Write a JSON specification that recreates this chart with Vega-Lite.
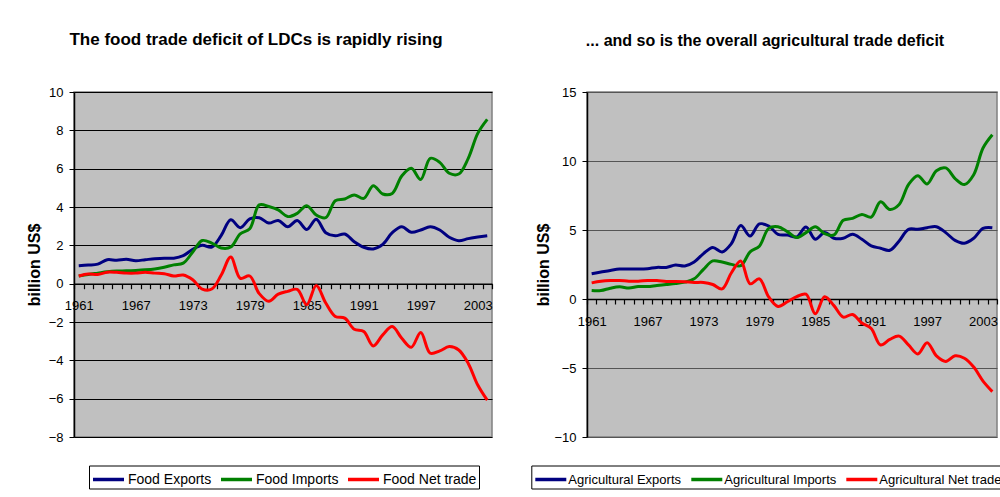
{
  "$schema": "https://vega.github.io/schema/vega-lite/v6.json",
  "background": "white",
  "padding": {"left": 25, "top": 29, "right": 0, "bottom": 0},
  "spacing": 36,
  "config": {
    "font": "Liberation Sans",
    "view": {"fill": "#C0C0C0", "stroke": "#808080", "strokeWidth": 1.5},
    "axis": {"labelColor": "black", "titleColor": "black", "domainColor": "black", "tickColor": "black", "labelFontSize": 13, "labelFont": "Liberation Sans"},
    "legend": {"labelColor": "black", "labelFont": "Liberation Sans"}
  },
  "datasets": {
    "food": [
      {"year":1961,"series":"Food Exports","value":0.93},{"year":1962,"series":"Food Exports","value":0.97},{"year":1963,"series":"Food Exports","value":1.02},{"year":1964,"series":"Food Exports","value":1.25},{"year":1965,"series":"Food Exports","value":1.22},{"year":1966,"series":"Food Exports","value":1.27},{"year":1967,"series":"Food Exports","value":1.2},{"year":1968,"series":"Food Exports","value":1.25},{"year":1969,"series":"Food Exports","value":1.3},{"year":1970,"series":"Food Exports","value":1.33},{"year":1971,"series":"Food Exports","value":1.33},{"year":1972,"series":"Food Exports","value":1.46},{"year":1973,"series":"Food Exports","value":1.79},{"year":1974,"series":"Food Exports","value":2.0},{"year":1975,"series":"Food Exports","value":1.91},{"year":1976,"series":"Food Exports","value":2.52},{"year":1977,"series":"Food Exports","value":3.33},{"year":1978,"series":"Food Exports","value":2.92},{"year":1979,"series":"Food Exports","value":3.38},{"year":1980,"series":"Food Exports","value":3.44},{"year":1981,"series":"Food Exports","value":3.16},{"year":1982,"series":"Food Exports","value":3.3},{"year":1983,"series":"Food Exports","value":2.97},{"year":1984,"series":"Food Exports","value":3.29},{"year":1985,"series":"Food Exports","value":2.83},{"year":1986,"series":"Food Exports","value":3.36},{"year":1987,"series":"Food Exports","value":2.66},{"year":1988,"series":"Food Exports","value":2.5},{"year":1989,"series":"Food Exports","value":2.59},{"year":1990,"series":"Food Exports","value":2.19},{"year":1991,"series":"Food Exports","value":1.9},{"year":1992,"series":"Food Exports","value":1.81},{"year":1993,"series":"Food Exports","value":2.05},{"year":1994,"series":"Food Exports","value":2.66},{"year":1995,"series":"Food Exports","value":2.97},{"year":1996,"series":"Food Exports","value":2.68},{"year":1997,"series":"Food Exports","value":2.8},{"year":1998,"series":"Food Exports","value":2.97},{"year":1999,"series":"Food Exports","value":2.8},{"year":2000,"series":"Food Exports","value":2.42},{"year":2001,"series":"Food Exports","value":2.24},{"year":2002,"series":"Food Exports","value":2.35},{"year":2003,"series":"Food Exports","value":2.43},{"year":2004,"series":"Food Exports","value":2.5},
      {"year":1961,"series":"Food Imports","value":0.4},{"year":1962,"series":"Food Imports","value":0.48},{"year":1963,"series":"Food Imports","value":0.55},{"year":1964,"series":"Food Imports","value":0.62},{"year":1965,"series":"Food Imports","value":0.66},{"year":1966,"series":"Food Imports","value":0.67},{"year":1967,"series":"Food Imports","value":0.69},{"year":1968,"series":"Food Imports","value":0.72},{"year":1969,"series":"Food Imports","value":0.77},{"year":1970,"series":"Food Imports","value":0.86},{"year":1971,"series":"Food Imports","value":0.98},{"year":1972,"series":"Food Imports","value":1.07},{"year":1973,"series":"Food Imports","value":1.65},{"year":1974,"series":"Food Imports","value":2.25},{"year":1975,"series":"Food Imports","value":2.12},{"year":1976,"series":"Food Imports","value":1.86},{"year":1977,"series":"Food Imports","value":1.91},{"year":1978,"series":"Food Imports","value":2.6},{"year":1979,"series":"Food Imports","value":2.86},{"year":1980,"series":"Food Imports","value":4.11},{"year":1981,"series":"Food Imports","value":4.03},{"year":1982,"series":"Food Imports","value":3.85},{"year":1983,"series":"Food Imports","value":3.5},{"year":1984,"series":"Food Imports","value":3.67},{"year":1985,"series":"Food Imports","value":4.07},{"year":1986,"series":"Food Imports","value":3.58},{"year":1987,"series":"Food Imports","value":3.44},{"year":1988,"series":"Food Imports","value":4.33},{"year":1989,"series":"Food Imports","value":4.42},{"year":1990,"series":"Food Imports","value":4.63},{"year":1991,"series":"Food Imports","value":4.45},{"year":1992,"series":"Food Imports","value":5.11},{"year":1993,"series":"Food Imports","value":4.68},{"year":1994,"series":"Food Imports","value":4.71},{"year":1995,"series":"Food Imports","value":5.62},{"year":1996,"series":"Food Imports","value":6.02},{"year":1997,"series":"Food Imports","value":5.44},{"year":1998,"series":"Food Imports","value":6.54},{"year":1999,"series":"Food Imports","value":6.33},{"year":2000,"series":"Food Imports","value":5.76},{"year":2001,"series":"Food Imports","value":5.72},{"year":2002,"series":"Food Imports","value":6.54},{"year":2003,"series":"Food Imports","value":7.84},{"year":2004,"series":"Food Imports","value":8.57},
      {"year":1961,"series":"Food Net trade","value":0.4},{"year":1962,"series":"Food Net trade","value":0.5},{"year":1963,"series":"Food Net trade","value":0.48},{"year":1964,"series":"Food Net trade","value":0.6},{"year":1965,"series":"Food Net trade","value":0.59},{"year":1966,"series":"Food Net trade","value":0.55},{"year":1967,"series":"Food Net trade","value":0.55},{"year":1968,"series":"Food Net trade","value":0.6},{"year":1969,"series":"Food Net trade","value":0.55},{"year":1970,"series":"Food Net trade","value":0.52},{"year":1971,"series":"Food Net trade","value":0.4},{"year":1972,"series":"Food Net trade","value":0.45},{"year":1973,"series":"Food Net trade","value":0.2},{"year":1974,"series":"Food Net trade","value":-0.28},{"year":1975,"series":"Food Net trade","value":-0.28},{"year":1976,"series":"Food Net trade","value":0.45},{"year":1977,"series":"Food Net trade","value":1.39},{"year":1978,"series":"Food Net trade","value":0.28},{"year":1979,"series":"Food Net trade","value":0.4},{"year":1980,"series":"Food Net trade","value":-0.52},{"year":1981,"series":"Food Net trade","value":-0.92},{"year":1982,"series":"Food Net trade","value":-0.55},{"year":1983,"series":"Food Net trade","value":-0.4},{"year":1984,"series":"Food Net trade","value":-0.3},{"year":1985,"series":"Food Net trade","value":-1.1},{"year":1986,"series":"Food Net trade","value":-0.1},{"year":1987,"series":"Food Net trade","value":-1.01},{"year":1988,"series":"Food Net trade","value":-1.71},{"year":1989,"series":"Food Net trade","value":-1.8},{"year":1990,"series":"Food Net trade","value":-2.38},{"year":1991,"series":"Food Net trade","value":-2.5},{"year":1992,"series":"Food Net trade","value":-3.25},{"year":1993,"series":"Food Net trade","value":-2.67},{"year":1994,"series":"Food Net trade","value":-2.24},{"year":1995,"series":"Food Net trade","value":-2.85},{"year":1996,"series":"Food Net trade","value":-3.32},{"year":1997,"series":"Food Net trade","value":-2.55},{"year":1998,"series":"Food Net trade","value":-3.63},{"year":1999,"series":"Food Net trade","value":-3.51},{"year":2000,"series":"Food Net trade","value":-3.28},{"year":2001,"series":"Food Net trade","value":-3.46},{"year":2002,"series":"Food Net trade","value":-4.16},{"year":2003,"series":"Food Net trade","value":-5.29},{"year":2004,"series":"Food Net trade","value":-6.08}
    ],
    "agri": [
      {"year":1961,"series":"Agricultural Exports","value":1.83},{"year":1962,"series":"Agricultural Exports","value":1.95},{"year":1963,"series":"Agricultural Exports","value":2.07},{"year":1964,"series":"Agricultural Exports","value":2.17},{"year":1965,"series":"Agricultural Exports","value":2.17},{"year":1966,"series":"Agricultural Exports","value":2.17},{"year":1967,"series":"Agricultural Exports","value":2.2},{"year":1968,"series":"Agricultural Exports","value":2.29},{"year":1969,"series":"Agricultural Exports","value":2.29},{"year":1970,"series":"Agricultural Exports","value":2.46},{"year":1971,"series":"Agricultural Exports","value":2.39},{"year":1972,"series":"Agricultural Exports","value":2.68},{"year":1973,"series":"Agricultural Exports","value":3.29},{"year":1974,"series":"Agricultural Exports","value":3.73},{"year":1975,"series":"Agricultural Exports","value":3.41},{"year":1976,"series":"Agricultural Exports","value":4.02},{"year":1977,"series":"Agricultural Exports","value":5.32},{"year":1978,"series":"Agricultural Exports","value":4.56},{"year":1979,"series":"Agricultural Exports","value":5.44},{"year":1980,"series":"Agricultural Exports","value":5.29},{"year":1981,"series":"Agricultural Exports","value":4.68},{"year":1982,"series":"Agricultural Exports","value":4.63},{"year":1983,"series":"Agricultural Exports","value":4.5},{"year":1984,"series":"Agricultural Exports","value":5.22},{"year":1985,"series":"Agricultural Exports","value":4.33},{"year":1986,"series":"Agricultural Exports","value":4.81},{"year":1987,"series":"Agricultural Exports","value":4.4},{"year":1988,"series":"Agricultural Exports","value":4.4},{"year":1989,"series":"Agricultural Exports","value":4.69},{"year":1990,"series":"Agricultural Exports","value":4.33},{"year":1991,"series":"Agricultural Exports","value":3.85},{"year":1992,"series":"Agricultural Exports","value":3.68},{"year":1993,"series":"Agricultural Exports","value":3.53},{"year":1994,"series":"Agricultural Exports","value":4.21},{"year":1995,"series":"Agricultural Exports","value":5.05},{"year":1996,"series":"Agricultural Exports","value":5.05},{"year":1997,"series":"Agricultural Exports","value":5.17},{"year":1998,"series":"Agricultural Exports","value":5.24},{"year":1999,"series":"Agricultural Exports","value":4.81},{"year":2000,"series":"Agricultural Exports","value":4.25},{"year":2001,"series":"Agricultural Exports","value":4.04},{"year":2002,"series":"Agricultural Exports","value":4.4},{"year":2003,"series":"Agricultural Exports","value":5.12},{"year":2004,"series":"Agricultural Exports","value":5.17},
      {"year":1961,"series":"Agricultural Imports","value":0.61},{"year":1962,"series":"Agricultural Imports","value":0.61},{"year":1963,"series":"Agricultural Imports","value":0.78},{"year":1964,"series":"Agricultural Imports","value":0.88},{"year":1965,"series":"Agricultural Imports","value":0.8},{"year":1966,"series":"Agricultural Imports","value":0.9},{"year":1967,"series":"Agricultural Imports","value":0.9},{"year":1968,"series":"Agricultural Imports","value":0.98},{"year":1969,"series":"Agricultural Imports","value":1.05},{"year":1970,"series":"Agricultural Imports","value":1.12},{"year":1971,"series":"Agricultural Imports","value":1.22},{"year":1972,"series":"Agricultural Imports","value":1.46},{"year":1973,"series":"Agricultural Imports","value":2.15},{"year":1974,"series":"Agricultural Imports","value":2.76},{"year":1975,"series":"Agricultural Imports","value":2.68},{"year":1976,"series":"Agricultural Imports","value":2.51},{"year":1977,"series":"Agricultural Imports","value":2.41},{"year":1978,"series":"Agricultural Imports","value":3.41},{"year":1979,"series":"Agricultural Imports","value":3.83},{"year":1980,"series":"Agricultural Imports","value":5.12},{"year":1981,"series":"Agricultural Imports","value":5.24},{"year":1982,"series":"Agricultural Imports","value":4.88},{"year":1983,"series":"Agricultural Imports","value":4.45},{"year":1984,"series":"Agricultural Imports","value":4.81},{"year":1985,"series":"Agricultural Imports","value":5.24},{"year":1986,"series":"Agricultural Imports","value":4.74},{"year":1987,"series":"Agricultural Imports","value":4.64},{"year":1988,"series":"Agricultural Imports","value":5.7},{"year":1989,"series":"Agricultural Imports","value":5.84},{"year":1990,"series":"Agricultural Imports","value":6.13},{"year":1991,"series":"Agricultural Imports","value":5.94},{"year":1992,"series":"Agricultural Imports","value":7.04},{"year":1993,"series":"Agricultural Imports","value":6.49},{"year":1994,"series":"Agricultural Imports","value":6.85},{"year":1995,"series":"Agricultural Imports","value":8.29},{"year":1996,"series":"Agricultural Imports","value":8.94},{"year":1997,"series":"Agricultural Imports","value":8.34},{"year":1998,"series":"Agricultural Imports","value":9.3},{"year":1999,"series":"Agricultural Imports","value":9.5},{"year":2000,"series":"Agricultural Imports","value":8.73},{"year":2001,"series":"Agricultural Imports","value":8.29},{"year":2002,"series":"Agricultural Imports","value":9.01},{"year":2003,"series":"Agricultural Imports","value":10.94},{"year":2004,"series":"Agricultural Imports","value":11.9},
      {"year":1961,"series":"Agricultural Net trade","value":1.17},{"year":1962,"series":"Agricultural Net trade","value":1.29},{"year":1963,"series":"Agricultural Net trade","value":1.34},{"year":1964,"series":"Agricultural Net trade","value":1.34},{"year":1965,"series":"Agricultural Net trade","value":1.29},{"year":1966,"series":"Agricultural Net trade","value":1.29},{"year":1967,"series":"Agricultural Net trade","value":1.34},{"year":1968,"series":"Agricultural Net trade","value":1.34},{"year":1969,"series":"Agricultural Net trade","value":1.27},{"year":1970,"series":"Agricultural Net trade","value":1.27},{"year":1971,"series":"Agricultural Net trade","value":1.25},{"year":1972,"series":"Agricultural Net trade","value":1.2},{"year":1973,"series":"Agricultural Net trade","value":1.2},{"year":1974,"series":"Agricultural Net trade","value":1.05},{"year":1975,"series":"Agricultural Net trade","value":0.73},{"year":1976,"series":"Agricultural Net trade","value":1.9},{"year":1977,"series":"Agricultural Net trade","value":2.76},{"year":1978,"series":"Agricultural Net trade","value":1.1},{"year":1979,"series":"Agricultural Net trade","value":1.46},{"year":1980,"series":"Agricultural Net trade","value":0.15},{"year":1981,"series":"Agricultural Net trade","value":-0.54},{"year":1982,"series":"Agricultural Net trade","value":-0.2},{"year":1983,"series":"Agricultural Net trade","value":0.17},{"year":1984,"series":"Agricultural Net trade","value":0.35},{"year":1985,"series":"Agricultural Net trade","value":-1.07},{"year":1986,"series":"Agricultural Net trade","value":0.17},{"year":1987,"series":"Agricultural Net trade","value":-0.48},{"year":1988,"series":"Agricultural Net trade","value":-1.31},{"year":1989,"series":"Agricultural Net trade","value":-1.12},{"year":1990,"series":"Agricultural Net trade","value":-1.74},{"year":1991,"series":"Agricultural Net trade","value":-2.14},{"year":1992,"series":"Agricultural Net trade","value":-3.33},{"year":1993,"series":"Agricultural Net trade","value":-2.93},{"year":1994,"series":"Agricultural Net trade","value":-2.69},{"year":1995,"series":"Agricultural Net trade","value":-3.33},{"year":1996,"series":"Agricultural Net trade","value":-3.98},{"year":1997,"series":"Agricultural Net trade","value":-3.17},{"year":1998,"series":"Agricultural Net trade","value":-4.12},{"year":1999,"series":"Agricultural Net trade","value":-4.52},{"year":2000,"series":"Agricultural Net trade","value":-4.12},{"year":2001,"series":"Agricultural Net trade","value":-4.29},{"year":2002,"series":"Agricultural Net trade","value":-4.93},{"year":2003,"series":"Agricultural Net trade","value":-5.95},{"year":2004,"series":"Agricultural Net trade","value":-6.71}
    ]
  },
  "hconcat": [
    {
      "width": 418,
      "height": 345,
      "title": {"text": "The food trade deficit of LDCs is rapidly rising", "fontSize": 17, "fontWeight": "bold", "color": "black", "frame": "group", "anchor": "middle", "dx": -27, "offset": 37.5},
      "data": {"name": "food"},
      "mark": {"type": "line", "strokeWidth": 3, "interpolate": "catmull-rom"},
      "encoding": {
        "x": {"field": "year", "type": "ordinal", "scale": {"type": "band", "paddingInner": 0, "paddingOuter": 0},
          "axis": {"title": null, "offset": -153.3, "tickBand": "extent", "labelExpr": "(datum.value - 1961) % 6 == 0 ? datum.label : ''", "labelAngle": 0, "labelOverlap": false, "labelFlush": false, "tickSize": 5, "labelPadding": 11, "grid": false, "domainWidth": 1.5, "tickWidth": 1.2}},
        "y": {"field": "value", "type": "quantitative", "scale": {"domain": [-8, 10], "nice": false, "zero": false},
          "axis": {"title": "billion US$", "titleFontSize": 16, "titleFontWeight": "bold", "titlePadding": 6, "values": [-8,-6,-4,-2,0,2,4,6,8,10], "tickSize": 5, "labelPadding": 6, "grid": true, "gridColor": "black", "gridWidth": 1, "domainWidth": 1.5}},
        "color": {"field": "series", "type": "nominal",
          "scale": {"domain": ["Food Exports", "Food Imports", "Food Net trade"], "range": ["#000080", "#008000", "#FF0000"]},
          "legend": {"title": null, "orient": "none", "legendX": 15, "legendY": 373.5, "direction": "horizontal", "strokeColor": "black", "fillColor": "white", "padding": 2, "symbolType": "M-1,0H2.1", "symbolSize": 400, "symbolStrokeWidth": 3.5, "columnPadding": 2, "labelOffset": 13, "labelFontSize": 14}}
      }
    },
    {
      "width": 410,
      "height": 345,
      "title": {"text": "... and so is the overall agricultural trade deficit", "fontSize": 16, "fontWeight": "bold", "color": "black", "frame": "group", "anchor": "middle", "dx": -27, "offset": 37.5},
      "data": {"name": "agri"},
      "mark": {"type": "line", "strokeWidth": 3, "interpolate": "catmull-rom"},
      "encoding": {
        "x": {"field": "year", "type": "ordinal", "scale": {"type": "band", "paddingInner": 0, "paddingOuter": 0},
          "axis": {"title": null, "offset": -138, "tickBand": "extent", "labelExpr": "(datum.value - 1961) % 6 == 0 ? datum.label : ''", "labelAngle": 0, "labelOverlap": false, "labelFlush": false, "tickSize": 5, "labelPadding": 11, "grid": false, "domainWidth": 1.5, "tickWidth": 1.2}},
        "y": {"field": "value", "type": "quantitative", "scale": {"domain": [-10, 15], "nice": false, "zero": false},
          "axis": {"title": "billion US$", "titleFontSize": 16, "titleFontWeight": "bold", "titlePadding": 2, "values": [-10,-5,0,5,10,15], "tickSize": 5, "labelPadding": 6, "grid": true, "gridColor": "#555555", "gridWidth": 1, "domainWidth": 1.5}},
        "color": {"field": "series", "type": "nominal",
          "scale": {"domain": ["Agricultural Exports", "Agricultural Imports", "Agricultural Net trade"], "range": ["#000080", "#008000", "#FF0000"]},
          "legend": {"title": null, "orient": "none", "legendX": -55.7, "legendY": 373.5, "direction": "horizontal", "strokeColor": "black", "fillColor": "white", "padding": 2, "symbolType": "M-1,0H2.1", "symbolSize": 400, "symbolStrokeWidth": 3.5, "columnPadding": 3, "labelOffset": 11, "labelFontSize": 13}}
      }
    }
  ],
  "resolve": {"scale": {"color": "independent"}}
}
